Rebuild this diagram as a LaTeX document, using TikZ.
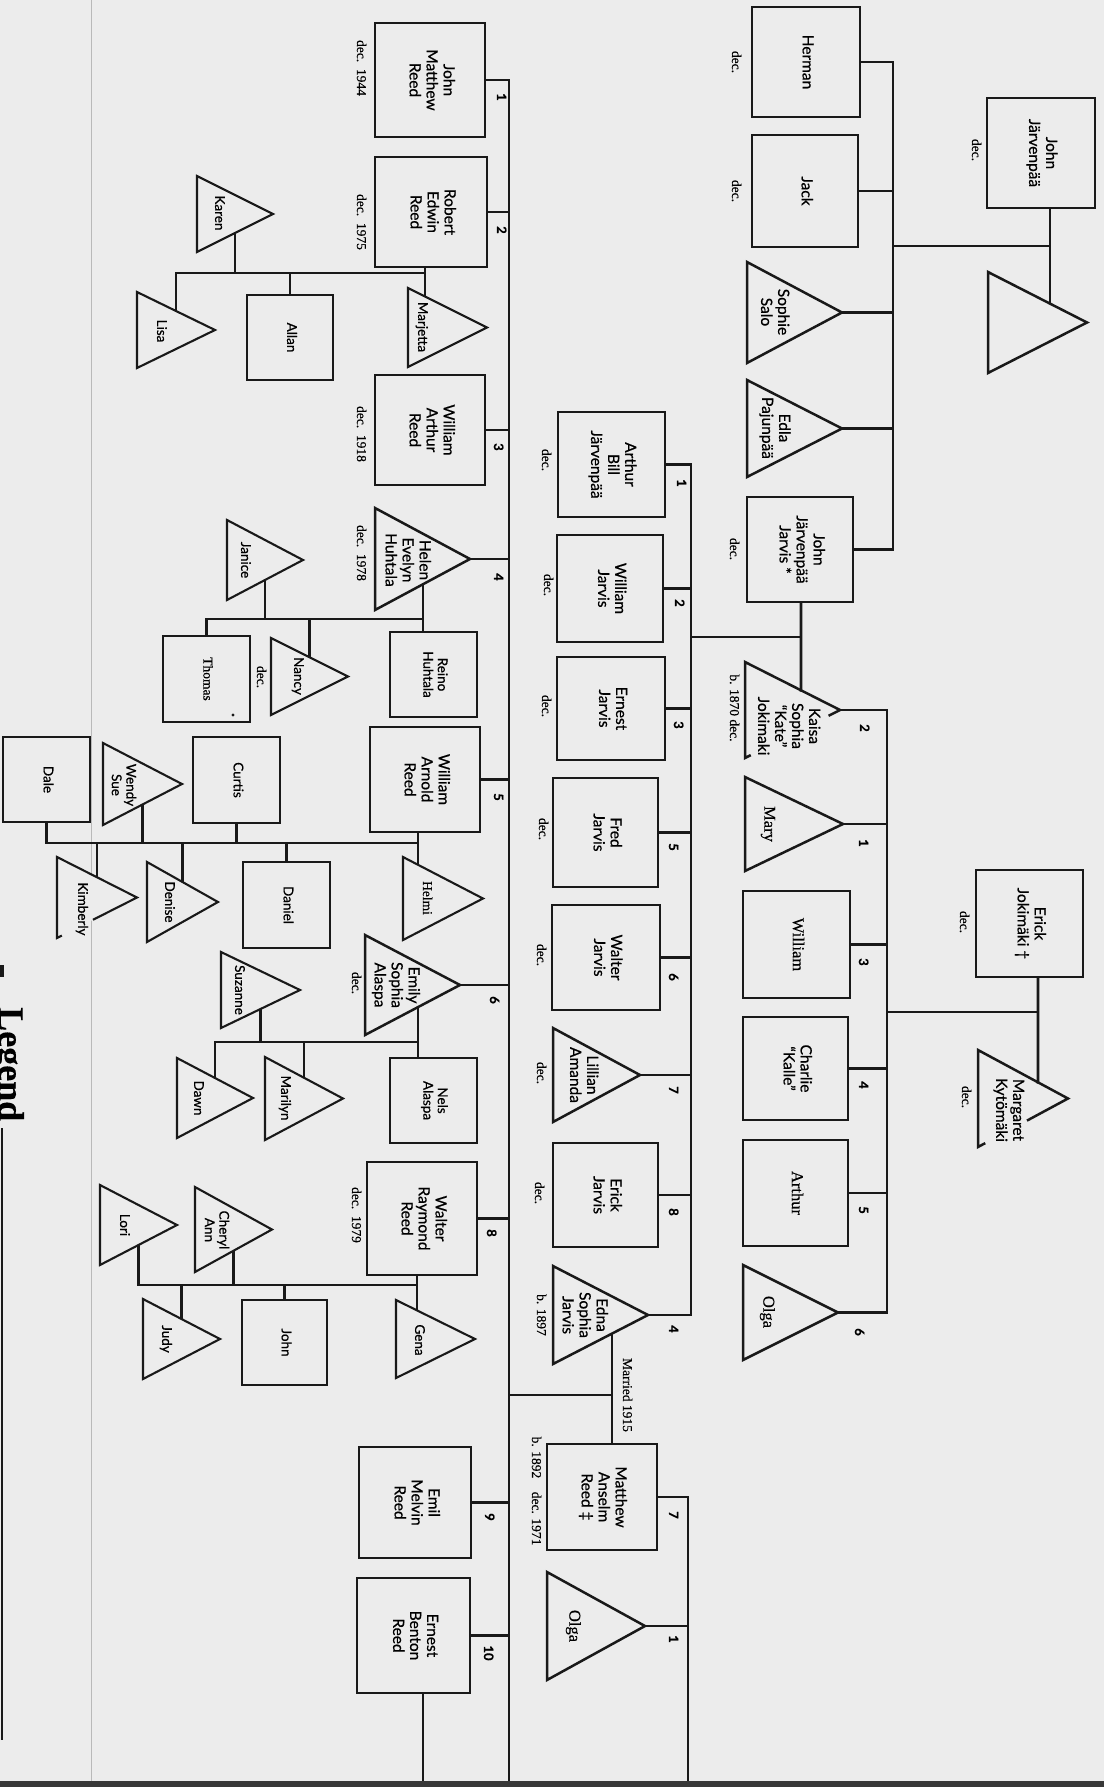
\documentclass[tikz,border=0pt]{standalone}
\usepackage{fontspec}
\setmainfont{Liberation Serif}[FakeBold=0.35]
\newfontfamily\lato[FakeBold=0.6]{Lato}
\usetikzlibrary{calc}
\pgfdeclarelayer{bg}
\pgfsetlayers{bg,main}
\definecolor{paper}{RGB}{236,236,236}
\definecolor{ink}{RGB}{25,25,25}
\newcommand\rt[1]{\rotatebox{-90}{\begin{tabular}{@{}c@{}}#1\end{tabular}}}
\newcommand\fBig{\lato\fontsize{15.5}{17}\selectfont}
\newcommand\fSmall{\lato\fontsize{13.5}{14.5}\selectfont}
\newcommand\fSerif{\fontsize{16.5}{18}\selectfont}
\newcommand\fDec{\fontsize{13.5}{15}\selectfont}
\newcommand\fNum{\lato\bfseries\fontsize{13}{15}\selectfont}
\newcommand\fLegend{\bfseries\fontsize{36}{40}\selectfont}
% triangle: name, base x, top y, bottom y, apex x, style
\newcommand\famtri[6]{%
  \coordinate (#1-t) at (#2,#3);
  \coordinate (#1-b) at (#2,#4);
  \coordinate (#1-a) at (#5,{(#3+#4)/2});
  \coordinate (#1-m) at ({(#2+#5)/2},{(#3+#4)/2});
  \filldraw[#6] (#1-t) -- (#1-a) -- (#1-b) -- cycle;}
% open triangle (lower edge broken): name,bx,ty,by,ax,style,frac from apex,frac from base
\newcommand\famptri[8]{%
  \coordinate (#1-t) at (#2,#3);
  \coordinate (#1-b) at (#2,#4);
  \coordinate (#1-a) at (#5,{(#3+#4)/2});
  \coordinate (#1-m) at ({(#2+#5)/2},{(#3+#4)/2});
  \draw[#6] ($(#1-a)!#7!(#1-b)$) -- (#1-a) -- (#1-t) -- (#1-b) -- ($(#1-b)!#8!(#1-a)$);}
\begin{document}
\begin{tikzpicture}[x=1pt,y=-1pt,
  con/.style={draw=ink,line width=2.6pt,line cap=rect},
  wh/.style 2 args={minimum width=#1pt,minimum height=#2pt},
  bbox/.style={draw=ink,line width=2.5pt,fill=paper,inner sep=0pt,font=\fBig},
  sbox/.style={draw=ink,line width=2.1pt,fill=paper,inner sep=0pt,font=\fSmall},
  btri/.style={draw=ink,line width=2.5pt,fill=paper,line join=miter},
  stri/.style={draw=ink,line width=2.1pt,fill=paper,line join=miter},
  otri/.style={draw=ink,line width=2.5pt,line join=miter},
  bt/.style={inner sep=0pt,font=\fBig},
  st/.style={inner sep=0pt,font=\fSmall},
  sr/.style={inner sep=0pt,font=\fSerif},
  decl/.style={inner sep=0pt,font=\fDec},
  numl/.style={inner sep=0pt,font=\fNum}]
\useasboundingbox (0,0) rectangle (1104,1787);
\begin{pgfonlayer}{bg}
  \fill[paper] (0,0) rectangle (1104,1787);
  \draw[gray!55,line width=1pt] (91,0) -- (91,1787);
\end{pgfonlayer}
% ---- junction coordinates
\coordinate (pb) at (0,1787);
\coordinate (jv) at (893,0);
\coordinate (ev) at (887,0);
\coordinate (jav) at (691,0);
\coordinate (mv) at (688,0);
\coordinate (rv) at (509,0);
\coordinate (jjm) at (1050,246);
\coordinate (jkm) at (801,637);
\coordinate (ejm) at (1038,1012);
\coordinate (emm) at (612,1395);
\coordinate (rem) at (425,273);
\coordinate (hrm) at (423,619);
\coordinate (awm) at (418,843);
\coordinate (enm) at (418,1042);
\coordinate (wgm) at (417,1285);
\coordinate (ebd) at (423,1787);
% ---- Järvenpää family
\node[bbox,wh={108}{110}] (jj) at (1041,153) {\rt{John\\Järvenpää}};
\node[decl] (jj-d) at (975,150) {\rt{dec.}};
\famtri{jjw}{988}{272}{373}{1087}{btri}
\node[bbox,wh={108}{110}] (herman) at (806,62) {\rt{Herman}};
\node[decl] (herman-d) at (735,62) {\rt{dec.}};
\node[bbox,wh={106}{112}] (jack) at (805,191) {\rt{Jack}};
\node[decl] (jack-d) at (735,191) {\rt{dec.}};
\famtri{sophie}{747}{262}{363}{842}{btri}
\node[bt] (sophie) at (773,312) {\rt{Sophie\\Salo}};
\famtri{edla}{747}{380}{477}{842}{btri}
\node[bt] (edla) at (774,428) {\rt{Edla\\Pajunpää}};
\node[bbox,wh={106}{105}] (jjj) at (800,549.5) {\rt{John\\Järvenpää\\Jarvis *}};
\node[decl] (jjj-d) at (733,549) {\rt{dec.}};
% ---- Kaisa
\famptri{kaisa}{745}{662}{758}{840}{otri}{0.12}{0.06}
\node[bt] (kaisa) at (787,726) {\rt{Kaisa\\Sophia\\“Kate”\\Jokimaki}};
\node[decl] (kaisa-d) at (733,708) {\rt{b. 1870 dec.}};
% ---- Jokimäki family
\node[bbox,wh={107}{107}] (ej) at (1029.5,923.5) {\rt{Erick\\Jokimäki †}};
\node[decl] (ej-d) at (963,922) {\rt{dec.}};
\famptri{marg}{978}{1050}{1147}{1068}{otri}{0.456}{0.08}
\node[bt] (marg) at (1008,1110) {\rt{Margaret\\Kytömäki}};
\node[decl] (marg-d) at (965,1097) {\rt{dec.}};
\famtri{mary}{745}{777}{871}{843}{btri}
\node[sr] (mary) at (768,824) {\rt{Mary}};
\node[bbox,font=\fSerif,wh={107}{107}] (william) at (796.5,944.5) {\rt{William}};
\node[bbox,wh={105}{103}] (charlie) at (795.5,1068.5) {\rt{Charlie\\“Kalle”}};
\node[bbox,font=\fSerif,wh={105}{106}] (arthur) at (795.5,1193) {\rt{Arthur}};
\famtri{olgaa}{743}{1265}{1360}{838}{btri}
\node[sr] (olgaa) at (767,1312) {\rt{Olga}};
\node[numl] (ev2) at (863,728) {\rt{2}};
\node[numl] (ev1) at (862,843) {\rt{1}};
\node[numl] (ev3) at (862,962) {\rt{3}};
\node[numl] (ev4) at (862,1085) {\rt{4}};
\node[numl] (ev5) at (862,1210) {\rt{5}};
\node[numl] (ev6) at (858,1332) {\rt{6}};
% ---- Jarvis children
\node[bbox,wh={107}{105}] (arthurb) at (611.5,464.5) {\rt{Arthur\\Bill\\Järvenpää}};
\node[decl] (arthurb-d) at (545,460) {\rt{dec.}};
\node[bbox,wh={106}{107}] (williamj) at (610,588.5) {\rt{William\\Jarvis}};
\node[decl] (williamj-d) at (547,585) {\rt{dec.}};
\node[bbox,wh={108}{103}] (ernestj) at (611,708.5) {\rt{Ernest\\Jarvis}};
\node[decl] (ernestj-d) at (545,706) {\rt{dec.}};
\node[bbox,wh={105}{109}] (fredj) at (605.5,832.5) {\rt{Fred\\Jarvis}};
\node[decl] (fredj-d) at (542,829) {\rt{dec.}};
\node[bbox,wh={108}{105}] (walterj) at (606,957.5) {\rt{Walter\\Jarvis}};
\node[decl] (walterj-d) at (540,955) {\rt{dec.}};
\famtri{lillian}{553}{1028}{1122}{640}{btri}
\node[bt] (lillian) at (582,1075) {\rt{Lillian\\Amanda}};
\node[decl] (lillian-d) at (540,1073) {\rt{dec.}};
\node[bbox,wh={105}{104}] (erickj) at (605.5,1195) {\rt{Erick\\Jarvis}};
\node[decl] (erickj-d) at (538,1193) {\rt{dec.}};
\famtri{edna}{553}{1266}{1364}{648}{btri}
\node[bt] (edna) at (583,1315) {\rt{Edna\\Sophia\\Jarvis}};
\node[decl] (edna-d) at (540,1315) {\rt{b. 1897}};
\node[numl] (ja1) at (680,483) {\rt{1}};
\node[numl] (ja2) at (678,603) {\rt{2}};
\node[numl] (ja3) at (677,725) {\rt{3}};
\node[numl] (ja5) at (672,847) {\rt{5}};
\node[numl] (ja6) at (672,977) {\rt{6}};
\node[numl] (ja7) at (672,1090) {\rt{7}};
\node[numl] (ja8) at (672,1212) {\rt{8}};
\node[numl] (ja4) at (672,1329) {\rt{4}};
% ---- Matthew
\node[decl] (married) at (626,1395) {\rt{Married 1915}};
\node[bbox,wh={110}{106}] (matthew) at (602,1497) {\rt{Matthew\\Anselm\\Reed ‡}};
\node[decl] (matthew-d) at (535,1491) {\rt{b. 1892\quad dec. 1971}};
\famtri{olgab}{547}{1572}{1680}{645}{btri}
\node[sr] (olgab) at (573,1626) {\rt{Olga}};
\node[numl] (mv7) at (672,1515) {\rt{7}};
\node[numl] (mv1) at (672,1639) {\rt{1}};
% ---- Reed children
\node[bbox,wh={110}{114}] (jmr) at (430,80) {\rt{John\\Matthew\\Reed}};
\node[decl] (jmr-d) at (360,68) {\rt{dec.~~1944}};
\node[bbox,wh={112}{110}] (rer) at (431,212) {\rt{Robert\\Edwin\\Reed}};
\node[decl] (rer-d) at (360,222) {\rt{dec.~~1975}};
\famtri{marj}{408}{288}{367}{487}{stri}
\node[st] (marj) at (421,327) {\rt{Marjetta}};
\famtri{karen}{197}{176}{252}{273}{stri}
\node[st] (karen) at (218,213) {\rt{Karen}};
\node[sbox,wh={86}{85}] (allan) at (290,337.5) {\rt{Allan}};
\famtri{lisa}{137}{292}{368}{215}{stri}
\node[st] (lisa) at (160,331) {\rt{Lisa}};
\node[bbox,wh={110}{110}] (war) at (430,430) {\rt{William\\Arthur\\Reed}};
\node[decl] (war-d) at (360,434) {\rt{dec.~~1918}};
\famtri{helen}{375}{508}{610}{470}{btri}
\node[bt] (helen) at (406,560) {\rt{Helen\\Evelyn\\Huhtala}};
\node[decl] (helen-d) at (360,553) {\rt{dec.~~1978}};
\node[sbox,wh={87}{85}] (reino) at (433.5,674.5) {\rt{Reino\\Huhtala}};
\famtri{janice}{227}{520}{600}{303}{stri}
\node[st] (janice) at (244,560) {\rt{Janice}};
\famtri{nancy}{271}{638}{715}{348}{stri}
\node[st] (nancy) at (297,676) {\rt{Nancy}};
\node[decl] (nancy-d) at (260,677) {\rt{dec.}};
\node[sbox,font=\fDec,wh={87}{86}] (thomas) at (206.5,679) {\rt{Thomas}};
\fill[ink] (233,715) circle (1.6);
\node[bbox,wh={110}{105}] (warn) at (425,779.5) {\rt{William\\Arnold\\Reed}};
\famtri{helmi}{403}{857}{940}{483}{stri}
\node[inner sep=0pt,font=\fDec] (helmi) at (426,898) {\rt{Helmi}};
\node[sbox,wh={87}{85}] (dale) at (46.5,779.5) {\rt{Dale}};
\famtri{wendy}{103}{743}{825}{182}{stri}
\node[st] (wendy) at (122,785) {\rt{Wendy\\Sue}};
\node[sbox,wh={87}{86}] (curtis) at (236.5,780) {\rt{Curtis}};
\famptri{kimberly}{57}{857}{938}{137}{stri}{0.55}{0.06}
\node[st] (kimberly) at (81,909) {\rt{Kimberly}};
\famtri{denise}{147}{862}{942}{218}{stri}
\node[st] (denise) at (168,902) {\rt{Denise}};
\node[sbox,wh={87}{86}] (daniel) at (286.5,905) {\rt{Daniel}};
\famtri{emily}{365}{935}{1035}{460}{btri}
\node[bt] (emily) at (395,985) {\rt{Emily\\Sophia\\Alaspa}};
\node[decl] (emily-d) at (355,983) {\rt{dec.}};
\node[sbox,wh={87}{85}] (nels) at (433.5,1100.5) {\rt{Nels\\Alaspa}};
\famtri{suzanne}{221}{952}{1028}{300}{stri}
\node[st] (suzanne) at (238,990) {\rt{Suzanne}};
\famtri{dawn}{177}{1058}{1138}{253}{stri}
\node[st] (dawn) at (197,1098) {\rt{Dawn}};
\famtri{marilyn}{265}{1057}{1140}{343}{stri}
\node[st] (marilyn) at (284,1098) {\rt{Marilyn}};
\node[bbox,wh={110}{113}] (wrr) at (422,1218.5) {\rt{Walter\\Raymond\\Reed}};
\node[decl] (wrr-d) at (355,1215) {\rt{dec.~~1979}};
\famtri{gena}{396}{1300}{1378}{475}{stri}
\node[st] (gena) at (418,1340) {\rt{Gena}};
\famtri{lori}{100}{1185}{1265}{177}{stri}
\node[st] (lori) at (123,1225) {\rt{Lori}};
\famtri{cheryl}{195}{1187}{1272}{272}{stri}
\node[st] (cheryl) at (215,1230) {\rt{Cheryl\\Ann}};
\node[sbox,wh={85}{85}] (john) at (284.5,1342.5) {\rt{John}};
\famtri{judy}{143}{1299}{1379}{220}{stri}
\node[st] (judy) at (165,1339) {\rt{Judy}};
\node[bbox,wh={112}{111}] (emil) at (415,1502.5) {\rt{Emil\\Melvin\\Reed}};
\node[bbox,wh={113}{115}] (ernestb) at (413.5,1635.5) {\rt{Ernest\\Benton\\Reed}};
\node[numl] (rv1) at (500,97) {\rt{1}};
\node[numl] (rv2) at (500,230) {\rt{2}};
\node[numl] (rv3) at (497,447) {\rt{3}};
\node[numl] (rv4) at (497,577) {\rt{4}};
\node[numl] (rv5) at (497,797) {\rt{5}};
\node[numl] (rv6) at (493,1000) {\rt{6}};
\node[numl] (rv8) at (490,1233) {\rt{8}};
\node[numl] (rv9) at (488,1517) {\rt{9}};
\node[numl] (rv10) at (487,1653) {\rt{10}};
% ---- legend and page edge
\node[font=\fLegend,rotate=-90,anchor=base west,inner sep=0pt] (legend) at (-1,1007) {Legend};
\fill[ink] (0,965) rectangle (4,977);
\draw[ink,line width=2.5pt] (2,1128) -- (2,1740);
\fill[black!78] (0,1781) rectangle (1104,1787);
% ---- connectors
\begin{pgfonlayer}{bg}
\draw[con] (jjm |- jj.south) -- (jjm |- jjw-m);
\draw[con] (jjm) -- (jjm -| jv);
\draw[con] (herman.east -| jv) -- (jjj.east -| jv);
\draw[con] (herman.east) -- (herman.east -| jv);
\draw[con] (jack.east) -- (jack.east -| jv);
\draw[con] (sophie-a) -- (sophie-a -| jv);
\draw[con] (edla-a) -- (edla-a -| jv);
\draw[con] (jjj.east) -- (jjj.east -| jv);
\draw[con] (jkm |- jjj.south) -- ($(kaisa-t)!0.589!(kaisa-a)$);
\draw[con] (jkm) -- (jkm -| jav);
\draw[con] (ejm |- ej.south) -- ($(marg-t)!0.667!(marg-a)$);
\draw[con] (ejm) -- (ejm -| ev);
\draw[con] (kaisa-a -| ev) -- (olgaa-a -| ev);
\draw[con] (kaisa-a) -- (kaisa-a -| ev);
\draw[con] (mary-a) -- (mary-a -| ev);
\draw[con] (william.east) -- (william.east -| ev);
\draw[con] (charlie.east) -- (charlie.east -| ev);
\draw[con] (arthur.east) -- (arthur.east -| ev);
\draw[con] (olgaa-a) -- (olgaa-a -| ev);
\draw[con] (arthurb.east -| jav) -- (edna-a -| jav);
\foreach \n in {arthurb,williamj,ernestj,fredj,walterj,erickj}
  \draw[con] (\n.east) -- (\n.east -| jav);
\draw[con] (lillian-a) -- (lillian-a -| jav);
\draw[con] (edna-a) -- (edna-a -| jav);
\draw[con] (emm |- edna-m) -- (emm |- matthew.north);
\draw[con] (emm) -- (emm -| rv);
\draw[con] (matthew.east) -- (matthew.east -| mv);
\draw[con] (olgab-a) -- (olgab-a -| mv);
\draw[con] (matthew.east -| mv) -- (mv |- pb);
\draw[con] (jmr.east -| rv) -- (rv |- pb);
\foreach \n in {jmr,rer,war,warn,wrr,emil,ernestb}
  \draw[con] (\n.east) -- (\n.east -| rv);
\draw[con] (helen-a) -- (helen-a -| rv);
\draw[con] (emily-a) -- (emily-a -| rv);
% Robert + Marjetta
\draw[con] (rem |- rer.south) -- (rem |- marj-m);
\draw[con] (rem) -- (rem -| lisa-m);
\draw[con] (karen-m |- rem) -- (karen-m);
\draw[con] (allan.north |- rem) -- (allan.north);
\draw[con] (lisa-m |- rem) -- (lisa-m);
% Helen + Reino
\draw[con] (hrm |- helen-m) -- (hrm |- reino.north);
\draw[con] (hrm) -- (hrm -| thomas.north);
\draw[con] (janice-m |- hrm) -- (janice-m);
\draw[con] (nancy-m |- hrm) -- (nancy-m);
\draw[con] (thomas.north |- hrm) -- (thomas.north);
% William Arnold + Helmi
\draw[con] (awm |- warn.south) -- (awm |- helmi-m);
\draw[con] (awm) -- (awm -| dale.south);
\draw[con] (dale.south |- awm) -- (dale.south);
\draw[con] (wendy-m |- awm) -- (wendy-m);
\draw[con] (curtis.south |- awm) -- (curtis.south);
\draw[con] (kimberly-m |- awm) -- ($(kimberly-t)!0.5!(kimberly-a)$);
\draw[con] (denise-m |- awm) -- (denise-m);
\draw[con] (daniel.north |- awm) -- (daniel.north);
% Emily + Nels
\draw[con] (enm |- emily-m) -- (enm |- nels.north);
\draw[con] (enm) -- (enm -| dawn-m);
\draw[con] (suzanne-m |- enm) -- (suzanne-m);
\draw[con] (dawn-m |- enm) -- (dawn-m);
\draw[con] (marilyn-m |- enm) -- (marilyn-m);
% Walter Raymond + Gena
\draw[con] (wgm |- wrr.south) -- (wgm |- gena-m);
\draw[con] (wgm) -- (wgm -| lori-m);
\draw[con] (lori-m |- wgm) -- (lori-m);
\draw[con] (cheryl-m |- wgm) -- (cheryl-m);
\draw[con] (john.north |- wgm) -- (john.north);
\draw[con] (judy-m |- wgm) -- (judy-m);
% Ernest Benton
\draw[con] (ebd |- ernestb.south) -- (ebd);
\end{pgfonlayer}
\end{tikzpicture}
\end{document}
